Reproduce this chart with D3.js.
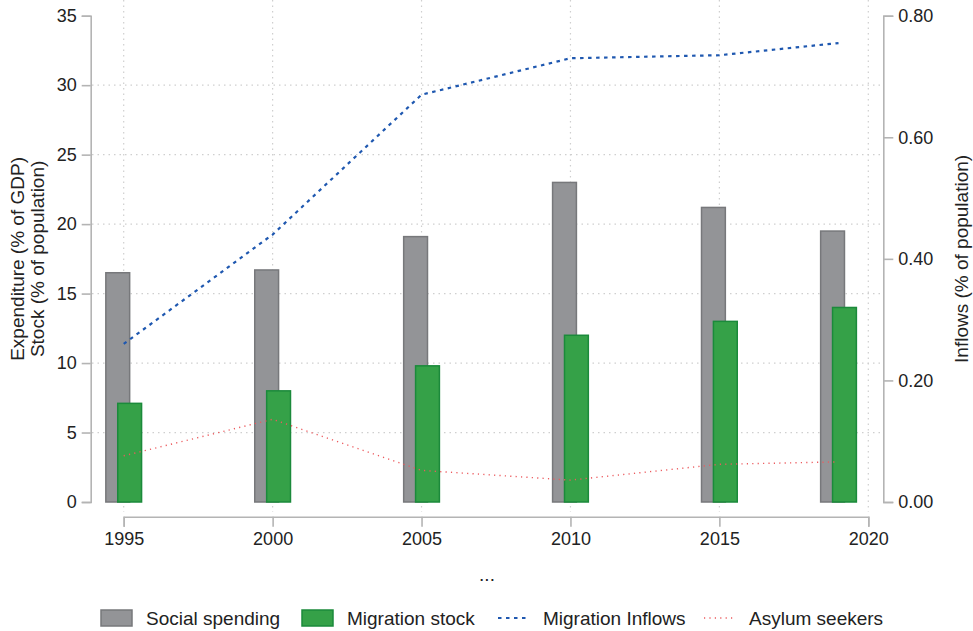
<!DOCTYPE html>
<html>
<head>
<meta charset="utf-8">
<script src="https://cdn.jsdelivr.net/npm/d3@7"></script>
<style>
  html, body { margin: 0; padding: 0; background: #fff; }
  svg { display: block; font-family: "Liberation Sans", Arial, Helvetica, sans-serif; }
</style>
</head>
<body>
<svg id="chart" width="973" height="631"></svg>
<script>
// Observation years
const years = [1995, 2000, 2005, 2010, 2015, 2019];
// Social spending, % of GDP (left axis)
const socialSpending = [16.5, 16.7, 19.1, 23.0, 21.2, 19.5];
// Migrant stock, % of population (left axis)
const migrationStock = [7.1, 8.0, 9.8, 12.0, 13.0, 14.0];
// Migration inflows, % of population (right axis)
const migrationInflows = [0.26, 0.44, 0.67, 0.73, 0.735, 0.755];
// Asylum seekers, % of population (right axis)
const asylumSeekers = [0.076, 0.136, 0.052, 0.036, 0.062, 0.066];

const xTicks = [1995, 2000, 2005, 2010, 2015, 2020];
const leftTicks = [0, 5, 10, 15, 20, 25, 30, 35];
const rightTicks = [0, 0.2, 0.4, 0.6, 0.8];
const legendItems = ["Social spending", "Migration stock", "Migration Inflows", "Asylum seekers"];

const svg = d3.select("#chart");

const x = d3.scaleLinear().domain([1995, 2020]).range([123.7, 868.3]);
const yL = d3.scaleLinear().domain([0, 35]).range([502, 15.7]);
const yR = d3.scaleLinear().domain([0, 0.8]).range([502, 15.7]);

const gridColor = "#cfcfcf";
const axisColor = "#b4b4b4";
const textColor = "#222";
const fontSize = 18;
const titleSize = 19;

// Grid
const grid = svg.append("g");
grid.selectAll("line.h").data(leftTicks.filter(d => d > 0 && d < 35)).join("line")
  .attr("x1", 92).attr("x2", 882)
  .attr("y1", d => yL(d)).attr("y2", d => yL(d))
  .attr("stroke", gridColor).attr("stroke-width", 1.2)
  .attr("stroke-dasharray", "1.5,4");
grid.selectAll("line.v").data(xTicks).join("line")
  .attr("x1", d => x(d)).attr("x2", d => x(d))
  .attr("y1", 0).attr("y2", 512)
  .attr("stroke", gridColor).attr("stroke-width", 1.2)
  .attr("stroke-dasharray", "1.5,4");

// Bars
const half = 0.4, shift = 0.2;
svg.append("g").selectAll("rect").data(years).join("rect")
  .attr("x", d => x(d - shift - half))
  .attr("width", (d) => x(d - shift + half) - x(d - shift - half))
  .attr("y", (d, i) => yL(socialSpending[i]))
  .attr("height", (d, i) => yL(0) - yL(socialSpending[i]))
  .attr("fill", "#939497").attr("stroke", "#77787b").attr("stroke-width", 1.5);

svg.append("g").selectAll("rect").data(years).join("rect")
  .attr("x", d => x(d + shift - half))
  .attr("width", (d) => x(d + shift + half) - x(d + shift - half))
  .attr("y", (d, i) => yL(migrationStock[i]))
  .attr("height", (d, i) => yL(0) - yL(migrationStock[i]))
  .attr("fill", "#35a148").attr("stroke", "#1b8a3b").attr("stroke-width", 1.5);

// Lines
const lineR = d3.line().x(d => x(d[0])).y(d => yR(d[1]));
svg.append("path")
  .attr("d", lineR(years.map((y, i) => [y, migrationInflows[i]])))
  .attr("fill", "none").attr("stroke", "#1f58b0").attr("stroke-width", 2.2)
  .attr("stroke-dasharray", "3.5,4.5");
svg.append("path")
  .attr("d", lineR(years.map((y, i) => [y, asylumSeekers[i]])))
  .attr("fill", "none").attr("stroke", "#ec5a5e").attr("stroke-width", 1.4)
  .attr("stroke-dasharray", "1.2,4.2");

// Axes
const axisL = svg.append("g").attr("transform", "translate(90.7,0)")
  .call(d3.axisLeft(yL).tickValues(leftTicks).tickSize(9).tickPadding(5).tickFormat(d3.format("d")));
const axisR = svg.append("g").attr("transform", "translate(883.3,0)")
  .call(d3.axisRight(yR).tickValues(rightTicks).tickSize(10).tickPadding(5).tickFormat(d3.format(".2f")));
const axisB = svg.append("g").attr("transform", "translate(0,516.7)")
  .call(d3.axisBottom(x).tickValues(xTicks).tickSize(10).tickPadding(6).tickFormat(d3.format("d")));

[axisL, axisR, axisB].forEach(g => {
  g.select(".domain").attr("stroke", axisColor).attr("stroke-width", 1.6);
  g.selectAll(".tick line").attr("stroke", axisColor).attr("stroke-width", 1.6);
  g.selectAll(".tick text").attr("fill", textColor).attr("font-size", fontSize)
    .attr("font-family", "Liberation Sans, Arial, sans-serif");
});

// Axis titles
const titleL = svg.append("text")
  .attr("transform", "translate(24,258.9) rotate(-90)")
  .attr("text-anchor", "middle").attr("fill", textColor).attr("font-size", titleSize);
titleL.append("tspan").attr("x", 0).attr("dy", 0).text("Expenditure (% of GDP)");
titleL.append("tspan").attr("x", 0).attr("dy", 20).text("Stock (% of population)");

svg.append("text")
  .attr("transform", "translate(968,258.9) rotate(-90)")
  .attr("text-anchor", "middle").attr("fill", textColor).attr("font-size", titleSize)
  .text("Inflows (% of population)");

svg.append("text")
  .attr("x", 487).attr("y", 581).attr("text-anchor", "middle")
  .attr("fill", textColor).attr("font-size", titleSize).text("...");

// Legend
const legend = svg.append("g");
const legY = 618;
const legX = [101, 302, 498, 704];
legendItems.forEach((name, i) => {
  const g = legend.append("g").attr("transform", `translate(${legX[i]},${legY})`);
  if (i === 0) {
    g.append("rect").attr("x", 0).attr("y", -8).attr("width", 31).attr("height", 16)
      .attr("fill", "#939497").attr("stroke", "#77787b").attr("stroke-width", 1.5);
  } else if (i === 1) {
    g.append("rect").attr("x", 0).attr("y", -8).attr("width", 31).attr("height", 16)
      .attr("fill", "#35a148").attr("stroke", "#1b8a3b").attr("stroke-width", 1.5);
  } else if (i === 2) {
    g.append("line").attr("x1", 0).attr("x2", 29).attr("y1", 0).attr("y2", 0)
      .attr("stroke", "#1f58b0").attr("stroke-width", 2.2).attr("stroke-dasharray", "3.5,4.5");
  } else {
    g.append("line").attr("x1", 0).attr("x2", 30).attr("y1", 0).attr("y2", 0)
      .attr("stroke", "#ec5a5e").attr("stroke-width", 1.4).attr("stroke-dasharray", "1.2,4.2");
  }
  g.append("text").attr("x", 45).attr("y", 0).attr("dy", "0.35em")
    .attr("fill", textColor).attr("font-size", titleSize).text(name);
});
</script>
</body>
</html>
